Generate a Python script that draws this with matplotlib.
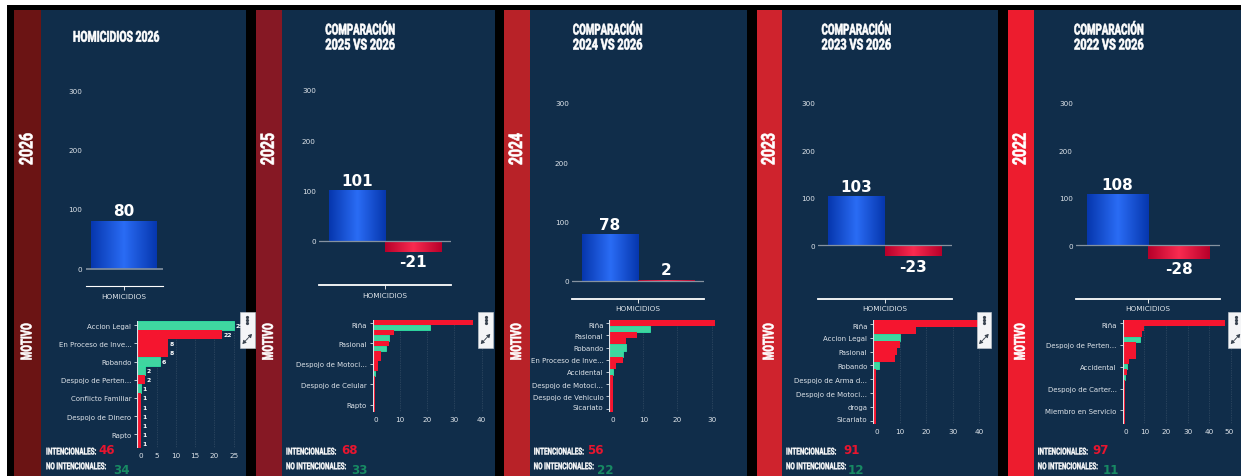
import numpy as np
import matplotlib
matplotlib.use("Agg")
import matplotlib.pyplot as plt
from matplotlib.patches import Rectangle
from matplotlib.patheffects import AbstractPathEffect
from matplotlib.transforms import Affine2D, Bbox, ScaledTranslation

W, H = 1241, 477

# ---- data ----
years = ["2026", "2025", "2024", "2023", "2022"]
titles = ["HOMICIDIOS 2026", "COMPARACIÓN\n2025 VS 2026", "COMPARACIÓN\n2024 VS 2026",
          "COMPARACIÓN\n2023 VS 2026", "COMPARACIÓN\n2022 VS 2026"]
homicidios = [80, 101, 78, 103, 108]
diferencia = [None, -21, 2, -23, -28]
intencionales = [46, 68, 56, 91, 97]
no_intencionales = [34, 33, 22, 12, 11]

motivo_2026 = [25, 22, 8, 8, 6, 2, 2, 1, 1, 1, 1, 1, 1, 1]
tipo_2026 = "GRRRGGRGRRRRRR"
labels_2026 = ["Accion Legal", "En Proceso de Inve...", "Robando", "Despojo de Perten...",
               "Conflicto Familiar", "Despojo de Dinero", "Rapto"]
motivo_2025 = [37, 21, 8, 6, 6, 5, 3, 3, 2, 2, 1, 1, 1, 1, 1, 1, 1, 1]
tipo_2025 = "RGRGRGRRRRGRRRRRRR"
labels_2025 = ["Riña", "Pasional", "Despojo de Motoci...", "Despojo de Celular", "Rapto"]
motivo_2024 = [31, 12, 8, 5, 5, 4, 4, 2, 1, 1, 1, 1, 1, 1, 1]
tipo_2024 = "RGRRGGRRGRRRRRR"
labels_2024 = ["Riña", "Pasional", "Robando", "En Proceso de Inve...", "Accidental",
               "Despojo de Motoci...", "Despojo de Vehiculo", "Sicariato"]
motivo_2023 = [40, 16, 10, 10, 9, 8, 2, 1, 1, 1, 1, 1, 1, 1, 1]
tipo_2023 = "RRGRRRGRRRRRRRR"
labels_2023 = ["Riña", "Accion Legal", "Pasional", "Robando", "Despojo de Arma d...",
               "Despojo de Motoci...", "droga", "Sicariato"]
motivo_2022 = [47, 10, 9, 8, 6, 6, 6, 3, 2, 2, 1, 1, 1, 1, 1, 1, 1, 1, 1]
tipo_2022 = "RRRGRRRRGRGRRRRRRRR"
labels_2022 = ["Riña", "Despojo de Perten...", "Accidental", "Despojo de Carter...", "Miembro en Servicio"]
motivos = [motivo_2026, motivo_2025, motivo_2024, motivo_2023, motivo_2022]
tipos = [tipo_2026, tipo_2025, tipo_2024, tipo_2023, tipo_2022]
etiquetas = [labels_2026, labels_2025, labels_2024, labels_2023, labels_2022]
label_steps = [2, 4, 2, 2, 4]
x_ticks = [[0, 5, 10, 15, 20, 25], [0, 10, 20, 30, 40], [0, 10, 20, 30],
           [0, 10, 20, 30, 40], [0, 10, 20, 30, 40, 50]]

# ---- layout (pixels) ----
strip = [(14.3, 40.5), (256, 281.7), (504, 530), (757, 782), (1008, 1033.5)]
navy_end = [246, 495, 747, 998, 1241]
strip_col = ["#6B1414", "#861824", "#B82228", "#CF232D", "#ED1C2E"]
col_x = [(85.7, 162.7), (319, 451.3), (572, 704.3), (818.3, 951.7), (1076, 1220)]
col_zero = [269.5, 242, 281.7, 246.3, 246.3]
col_300 = [91, 91, 104, 104, 104]
col_bot = [287, 286, 299.5, 299.5, 299.5]
hb_x0 = [137.3, 372.7, 609.3, 873.3, 1122.7]
hb_scale = [3.853, 2.723, 3.41, 2.65, 2.167]
hb_top = [321.7, 321, 321, 321.3, 321.3]
hb_bot = [449, 413.3, 412.7, 425.3, 425]
hb_xmax = [27, 41, 31.5, 41.5, 50.5]
title_cx = [116.5, 360.3, 607.8, 856.5, 1109]
int_x = [46, 286, 533.7, 786, 1037.7]
int_n = [98.7, 341.7, 586.7, 843.3, 1092.3]
noint_n = [112.7, 351, 596.7, 847.7, 1102.7]
menu_x = [240, 478.3, None, 976.7, 1228.3]

NAVY = "#102D4A"; RED = "#F5152F"; GREEN = "#3FD6A0"; TXT = "#DDE3E9"
COND = "Roboto"

fig = plt.figure(figsize=(W / 100, H / 100), dpi=100, facecolor="black")
rend = fig.canvas.get_renderer()


class Reshape(AbstractPathEffect):
    """Scales a text about its anchor, thickened a little (no condensed heavy font is installed)."""

    def __init__(self, text, sx, sy, stroke):
        super().__init__()
        self.text, self.sx, self.sy, self.stroke = text, sx, sy, stroke

    def matrix(self):
        ax_, ay_ = self.text.get_transform().transform(self.text.get_position())
        return Affine2D().translate(-ax_, -ay_).scale(self.sx, self.sy).translate(ax_, ay_)

    def draw_path(self, renderer, gc, tpath, affine, rgbFace=None):
        g = renderer.new_gc()
        g.copy_properties(gc)
        g.set_linewidth(self.stroke)
        g.set_foreground(rgbFace)
        renderer.draw_path(g, tpath, affine + self.matrix(), rgbFace)
        g.restore()


def fit(t, target_px, stroke=0.45):
    """Condense text t along its reading direction so its long side is target_px."""
    natural = t.get_window_extent
    bb = natural(rend)
    vertical = t.get_rotation() == 90
    f = target_px / (bb.height if vertical else bb.width)
    eff = Reshape(t, 1, f, stroke) if vertical else Reshape(t, f, 1, stroke)
    t.set_path_effects([eff])

    def extent(renderer=None, dpi=None):
        return Bbox(eff.matrix().transform(natural(renderer, dpi).get_points()))

    t.get_window_extent = extent
    return t


def fit_tall(t, target_px, stroke=0.25):
    """Set the font size for the target width, then stretch the glyphs back to their height."""
    f = target_px / t.get_window_extent(rend).width
    t.set_fontsize(t.get_fontsize() * f)
    t.set_path_effects([Reshape(t, 1, 1 / f, stroke)])
    return t


def overlay(z):
    a = fig.add_axes([0, 0, 1, 1], zorder=z)
    a.set_xlim(0, W); a.set_ylim(H, 0); a.axis("off"); a.patch.set_alpha(0)
    return a


def px_axes(l, t, r, b):
    return fig.add_axes([l / W, 1 - b / H, (r - l) / W, (b - t) / H], zorder=1)


base = overlay(0)
top = overlay(2)
base.add_patch(Rectangle((0, 0), W, 6, fc="white", lw=0))
base.add_patch(Rectangle((0, 0), 7, H, fc="white", lw=0))


def grad(c_edge, c_mid):
    e, m = np.array(matplotlib.colors.to_rgb(c_edge)), np.array(matplotlib.colors.to_rgb(c_mid))
    t = 1 - np.abs(np.linspace(-1, 1, 64))[None, :, None]
    return e + (m - e) * t


BLUE_G = grad("#0637AE", "#2A6CF5")
RED_G = grad("#B8002A", "#F92B50")

for i in range(5):
    s0, s1 = strip[i]
    base.add_patch(Rectangle((s0, 11), s1 - s0, H - 11, fc=strip_col[i], lw=0))
    base.add_patch(Rectangle((s1, 11), navy_end[i] - s1, H - 11, fc=NAVY, lw=0))
    cx = (s0 + s1) / 2
    fit(base.text(cx, 150, years[i], rotation=90, color="white", ha="center", va="center",
                  fontsize=13.5, family=COND, weight="bold"), 32)
    fit(base.text(cx, 342.7, "MOTIVO", rotation=90, color="white", ha="center", va="center",
                  fontsize=10.8, family=COND, weight="bold"), 37)
    lines = titles[i].split("\n")
    for j, line in enumerate(lines):
        y = 38.7 if len(lines) == 1 else 31.5 + 15 * j
        fit(base.text(title_cx[i], y, line, color="white", ha="center", va="center",
                      fontsize=10.8, family=COND, weight="bold"), 87 if len(lines) == 1 else 70)

    # column chart
    l, r = col_x[i]
    ppu = (col_zero[i] - col_300[i]) / 300
    ctop = 80
    ax = px_axes(l, ctop, r, col_bot[i])
    ax.patch.set_alpha(0)
    ax.set_xlim(-0.5, 0.5)
    ax.set_ylim((col_zero[i] - col_bot[i]) / ppu, (col_zero[i] - ctop) / ppu)
    for sp in ["top", "left", "right"]:
        ax.spines[sp].set_visible(False)
    ax.spines["bottom"].set_color("white")
    ax.spines["bottom"].set_linewidth(0.8 if i == 0 else 1.3)
    ax.set_xticks([0]); ax.set_xticklabels(["HOMICIDIOS"], fontsize=5.3, color=TXT)
    ax.tick_params(axis="x", length=3, width=0.6, color="white", pad=2)
    ax.set_yticks([0, 100, 200, 300])
    ax.tick_params(axis="y", length=0, labelsize=5.2, labelcolor=TXT, pad=2.3)
    ax.axhline(0, color="#8592A0", lw=1.2 if i == 0 else 0.9, zorder=3)
    ylim = ax.get_ylim()
    if diferencia[i] is None:
        series = [(0.0, 0.85, homicidios[i], BLUE_G)]
    else:
        series = [(-0.2125, 0.425, homicidios[i], BLUE_G), (0.2125, 0.425, diferencia[i], RED_G)]
    for xc, w, v, g in series:
        b = ax.bar(xc, v, w, color="none", lw=0)[0]
        im = ax.imshow(g, extent=[xc - w / 2, xc + w / 2, min(0, v), max(0, v)], aspect="auto", zorder=2)
        im.set_clip_path(b)
        ax.annotate(str(v), (xc, v), xytext=(0, 7.2 if v >= 0 else -7.2), textcoords="offset points",
                    ha="center", va="center", color="white", fontsize=11, weight="bold", zorder=4)
    ax.set_xlim(-0.5, 0.5); ax.set_ylim(*ylim)

    # horizontal bar chart
    vals, kinds = motivos[i], tipos[i]
    hr = hb_x0[i] + hb_xmax[i] * hb_scale[i]
    hx = px_axes(hb_x0[i], hb_top[i], hr, hb_bot[i])
    hx.patch.set_alpha(0)
    n = len(vals)
    hx.set_xlim(0, hb_xmax[i]); hx.set_ylim(n - 0.5, -0.5)
    for sp in hx.spines.values():
        sp.set_visible(False)
    hx.set_axisbelow(True)
    hx.grid(axis="x", color="white", alpha=0.2, lw=0.5, ls=(0, (1, 1.5)))
    for row, (v, k) in enumerate(zip(vals, kinds)):
        if k == "G":
            hx.barh(row, v, 1.0, color=GREEN, edgecolor="#2FE3A5", lw=0.6, zorder=2)
        else:
            hx.barh(row, v, 1.0, color=RED, lw=0, zorder=2)
        if i == 0:
            hx.annotate(str(v), (v, row), xytext=(1, 0), textcoords="offset points", ha="left",
                        va="center", color="white", fontsize=4.4, weight="bold", zorder=3,
                        annotation_clip=False)
    hx.axvline(0, color="#DDE3E9", lw=0.8, zorder=3)
    step = label_steps[i]
    rows = [r_ * step for r_ in range(len(etiquetas[i]))]
    hx.set_yticks(rows); hx.set_yticklabels(etiquetas[i], fontsize=5, color=TXT)
    hx.set_xticks(x_ticks[i]); hx.set_xticklabels([str(t) for t in x_ticks[i]], fontsize=5.2, color=TXT)
    hx.tick_params(axis="y", length=2, width=0.6, color=TXT, pad=2.2)
    hx.tick_params(axis="x", length=0, pad=3)
    px = fig.dpi_scale_trans
    hx.get_xticklabels()[0].set_transform(hx.get_xticklabels()[0].get_transform() + ScaledTranslation(3.3 / 100, 0, px))
    if i == 4:
        lab = hx.get_xticklabels()[-1]
        lab.set_transform(lab.get_transform() + ScaledTranslation(-2.3 / 100, 0, px))
    if i > 0:
        lab = hx.get_yticklabels()[0]
        lab.set_transform(lab.get_transform() + ScaledTranslation(0, -1.5 / 100, px))
    if rows[-1] == n - 1:
        lab = hx.get_yticklabels()[-1]
        lab.set_transform(lab.get_transform() + ScaledTranslation(0, 2 / 100, px))

    # summary
    fit_tall(top.text(int_x[i], 453.3, "INTENCIONALES:", color="white", fontsize=6.8, family=COND,
                      weight="bold", va="center", ha="left"), 50.5)
    fit_tall(top.text(int_x[i], 468, "NO INTENCIONALES:", color="white", fontsize=6.8, family=COND,
                      weight="bold", va="center", ha="left"), 60.5)
    top.text(int_n[i], 451, str(intencionales[i]), color="#E8152F", fontsize=8.6, weight="bold",
             va="center", ha="left")
    top.text(noint_n[i], 471, str(no_intencionales[i]), color="#178A63", fontsize=8.6, weight="bold",
             va="center", ha="left")

    # plotly style mode bar
    if menu_x[i] is not None:
        mx = menu_x[i]
        top.add_patch(Rectangle((mx, 312.7), 14.5, 36.3, fc="#F4F5F7", ec="#C9CED4", lw=0.4))
        cxm = mx + 7.2
        top.plot([cxm] * 3, [317.5, 320.5, 323.5], "o", ms=1.3, color="#3A4450", lw=0)
        top.annotate("", (cxm + 4.8, 335), (cxm, 340), arrowprops=dict(arrowstyle="-|>,head_width=0.12,head_length=0.2", color="#3A4450", lw=0.6, shrinkA=0, shrinkB=0))
        top.annotate("", (cxm - 4.8, 345), (cxm, 340), arrowprops=dict(arrowstyle="-|>,head_width=0.12,head_length=0.2", color="#3A4450", lw=0.6, shrinkA=0, shrinkB=0))

top.set_xlim(0, W); top.set_ylim(H, 0)
fig.savefig("out.png", dpi=100, facecolor="black")
